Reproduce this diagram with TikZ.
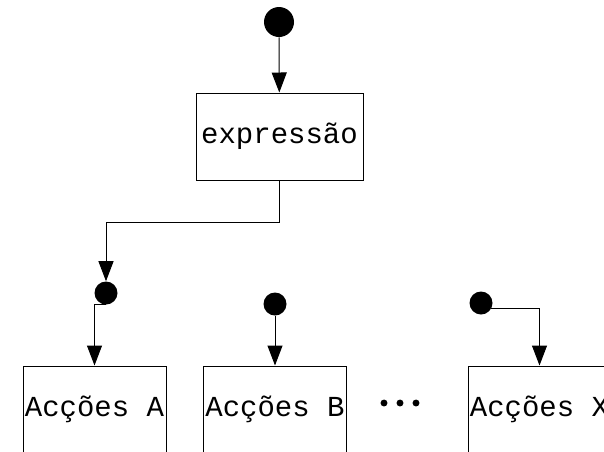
\documentclass[tikz,border=0pt]{standalone}
\usepackage{fontspec}
\setmonofont{Liberation Mono}
\usetikzlibrary{arrows.meta}

\begin{document}
\begin{tikzpicture}[
                x=0.75pt, y=-0.75pt,
                every node/.style={
                    font=\ttfamily\fontsize{21.75}{26}\selectfont
                },
                caixa/.style={
                    draw,
                    line width=0.75pt,
                    minimum width=107.25pt,
                    minimum height=65.25pt,
                    inner sep=0
                },
                ponto/.style={circle, fill, inner sep=0, minimum size=17.25pt},
                seta/.style={-{Triangle[length=15pt,width=11.25pt]}, line width=0.75pt}
            ]
            \useasboundingbox (0,0) rectangle (604,451);
            \clip (0,0) rectangle (604,451);
            % escolha das acções
            \node[ponto, minimum size=22.5pt] (inicio) at (279,22) {};
            \node[caixa, minimum width=125.25pt] (expr) at (279.5,136.5) {expressão};
            \node[ponto] (pa) at (106,293) {};
            \node[ponto] (pb) at (275,304) {};
            \node[ponto] (px) at (481,303) {};
            \node[caixa] (ca) at (94.5,409.5) {Acções A};
            \node[caixa] (cb) at (275,409.5) {Acções B};
            \node[caixa] (cx) at (539.5,409.5) {Acções X};
            \foreach \i in {384,400,416}
                \fill (\i,403) circle[radius=2.6pt];
            \draw[seta] (inicio) -- (expr);
            \draw[seta] (expr.south) -- ++(0,42) -| (pa);
            \draw[seta] (pa.south) -| (ca.north);
            \draw[seta] (pb) -- (cb);
            \draw[seta] (px.-30) -| (cx.north);
            \end{tikzpicture}
\end{document}
